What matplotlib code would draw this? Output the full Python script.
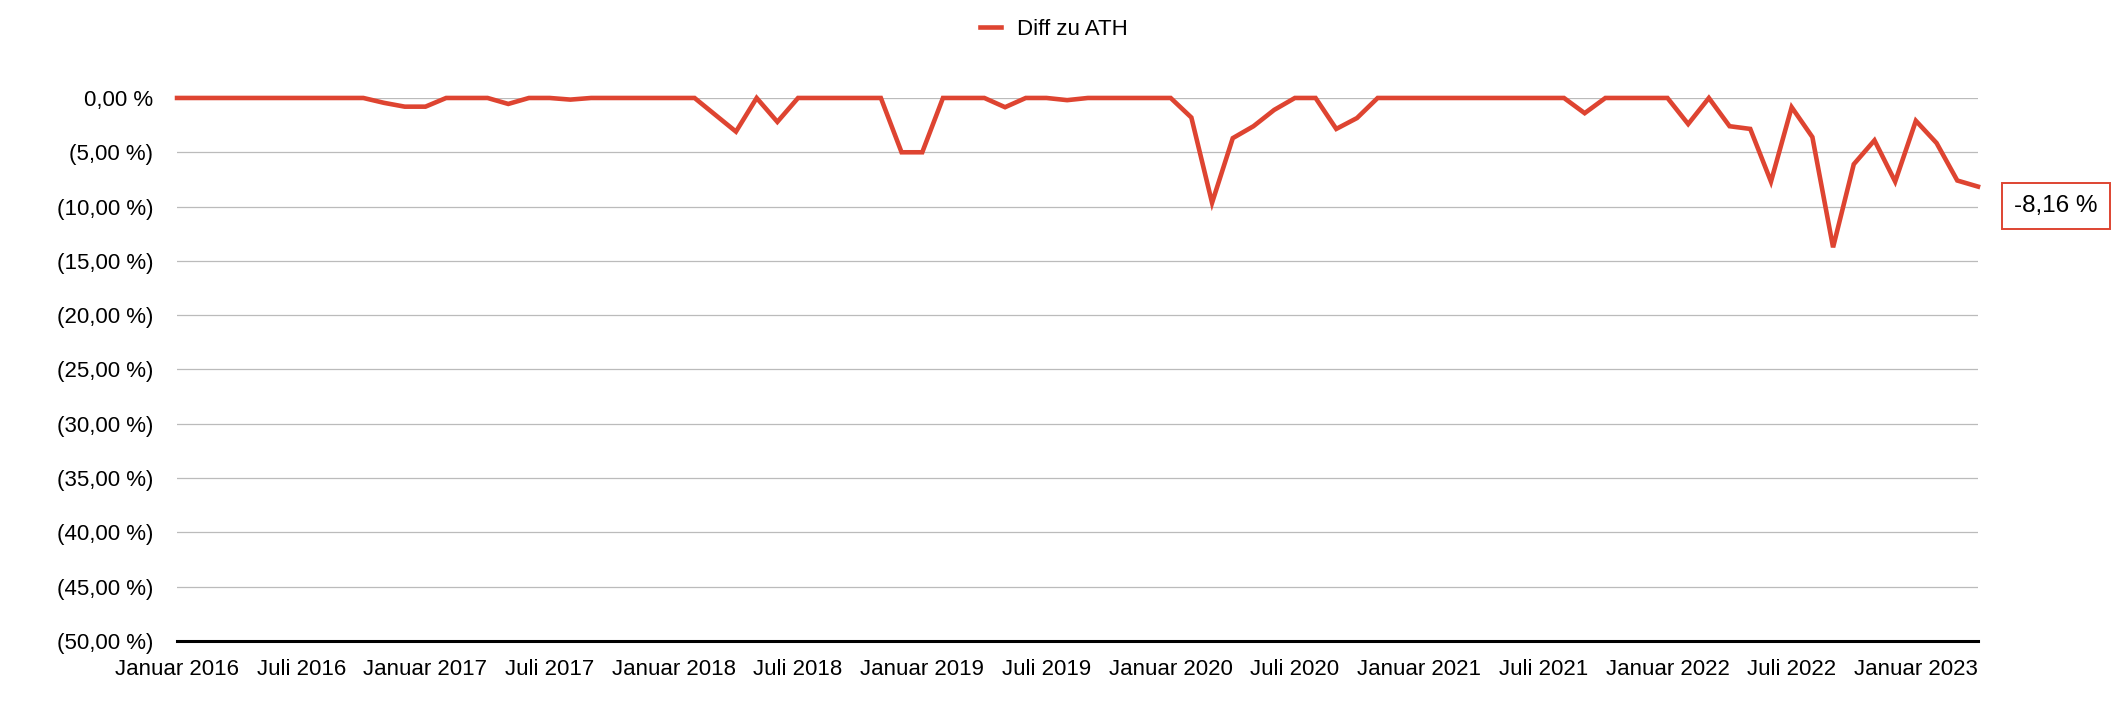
import matplotlib
matplotlib.use("Agg")
import matplotlib.pyplot as plt
import numpy as np

# Monatswerte Jan 2016 .. Apr 2023, Abstand zum Allzeithoch in %
start_year = 2016
diff_ath = [
    0, 0, 0, 0, 0, 0, 0, 0, 0, 0,            # 2016 Jan-Okt
    -0.45, -0.8,                            # Nov, Dez
    -0.8, 0, 0, 0, -0.55, 0, 0, -0.15, 0, 0, 0, 0,   # 2017
    0, 0, -1.55, -3.1, 0, -2.2, 0, 0, 0, 0, 0, -5.0,  # 2018
    -5.0, 0, 0, 0, -0.85, 0, 0, -0.2, 0, 0, 0, 0,   # 2019
    0, -1.8, -9.65, -3.7, -2.6, -1.1, 0, 0, -2.85, -1.85, 0, 0,  # 2020
    0, 0, 0, 0, 0, 0, 0, 0, -1.4, 0, 0, 0,          # 2021
    0, -2.4, 0, -2.6, -2.85, -7.7, -0.85, -3.6, -13.75, -6.1, -3.9, -7.7,  # 2022
    -2.1, -4.15, -7.6, -8.16,                       # 2023 Jan-Apr
]
y_ticks = list(range(0, -55, -5))
y_labels = ["0,00 %"] + [f"({abs(v)},00 %)" for v in y_ticks[1:]]
tick_months = list(range(0, 85, 6))
tick_labels = [("Januar " if m % 12 == 0 else "Juli ") + str(start_year + m // 12)
               for m in tick_months]
last_label = "-8,16 %"

red = "#DE4431"
plt.rcParams["font.family"] = ["Liberation Sans", "DejaVu Sans"]

fig = plt.figure(figsize=(21.28, 7.12), dpi=100)
ax = fig.add_axes([0.0832, 0.0997, 0.8463, 0.7627])

x = np.arange(len(diff_ath))
ax.plot(x, diff_ath, color=red, lw=3.3, solid_joinstyle="miter", clip_on=False,
        zorder=3, label="Diff zu ATH")

ax.set_xlim(0, len(diff_ath) - 1)
ax.set_ylim(-50, 0)
ax.set_yticks(y_ticks)
ax.set_yticklabels(y_labels, fontsize=16)
ax.set_xticks(tick_months)
ax.set_xticklabels(tick_labels, fontsize=16)
ax.tick_params(axis="y", length=0, pad=17)
ax.tick_params(axis="x", length=0, pad=13)

ax.grid(axis="y", color="#BBBBBB", lw=0.9)
ax.set_axisbelow(True)
for s in ["left", "right", "top"]:
    ax.spines[s].set_visible(False)
ax.spines["bottom"].set_color("black")
ax.spines["bottom"].set_linewidth(2.2)
ax.spines["bottom"].set_zorder(4)

fig.legend(loc="center", bbox_to_anchor=(0.4953, 0.959), frameon=False,
           fontsize=16, handlelength=0.95, handletextpad=0.7)

fig.text(2056 / 2128, 1 - 206 / 712, last_label, fontsize=17.5, ha="center", va="center",
         bbox=dict(boxstyle="square,pad=0.5", fc="white", ec=red, lw=1.4))

fig.savefig("out.png", dpi=100)
